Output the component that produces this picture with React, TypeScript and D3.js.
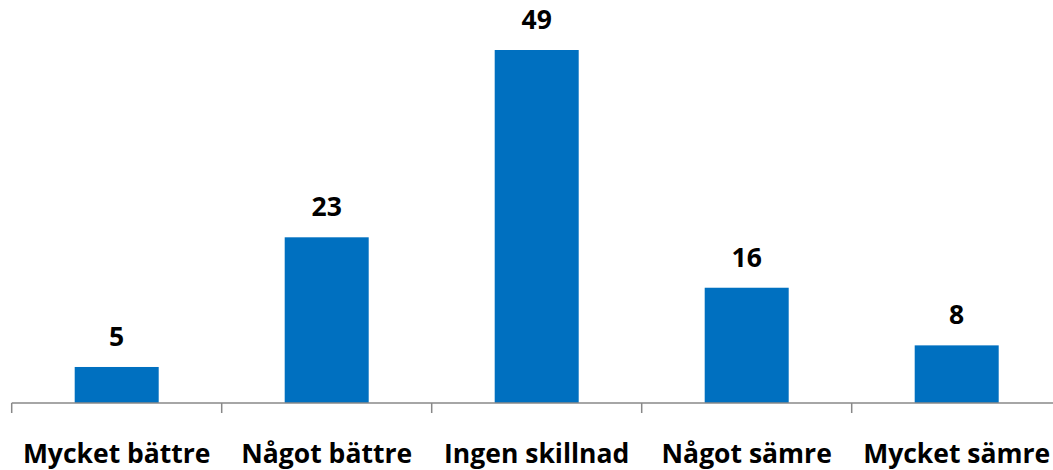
import React from "react";
import * as d3 from "d3";

const categories = ["Mycket bättre", "Något bättre", "Ingen skillnad", "Något sämre", "Mycket sämre"];
const values = [5, 23, 49, 16, 8];

const W = 1053;
const H = 470;
const axisY = 403;
const left = 11.7;
const bandW = 210;

export default function App() {
  const x = d3
    .scaleBand<string>()
    .domain(categories)
    .range([left, left + bandW * categories.length])
    .paddingInner(0.6)
    .paddingOuter(0.3);
  const y = d3.scaleLinear().domain([0, 49]).range([axisY, 50]);
  const ticks = d3.range(categories.length + 1).map((i) => left + i * bandW);

  return (
    <svg
      width={W}
      height={H}
      style={{ position: "absolute", left: 0, top: 0 }}
      fontFamily="'Open Sans', sans-serif"
    >
      {categories.map((c, i) => (
        <g key={c}>
          <rect
            x={x(c)}
            y={y(values[i])}
            width={x.bandwidth()}
            height={axisY - y(values[i])}
            fill="#0070C0"
          />
          <text
            x={(x(c) as number) + x.bandwidth() / 2}
            y={y(values[i]) - 21}
            textAnchor="middle"
            fontSize={26.5}
            fontWeight={700}
            fill="#000"
          >
            {values[i]}
          </text>
          <text
            x={left + bandW * i + bandW / 2}
            y={463}
            textAnchor="middle"
            fontSize={26.5}
            fontWeight={700}
            fill="#000"
          >
            {c}
          </text>
        </g>
      ))}
      <line x1={left} x2={W} y1={axisY} y2={axisY} stroke="#888" strokeWidth={1.5} />
      {ticks.map((t) => (
        <line key={t} x1={t} x2={t} y1={axisY} y2={axisY + 10} stroke="#888" strokeWidth={1.5} />
      ))}
    </svg>
  );
}
